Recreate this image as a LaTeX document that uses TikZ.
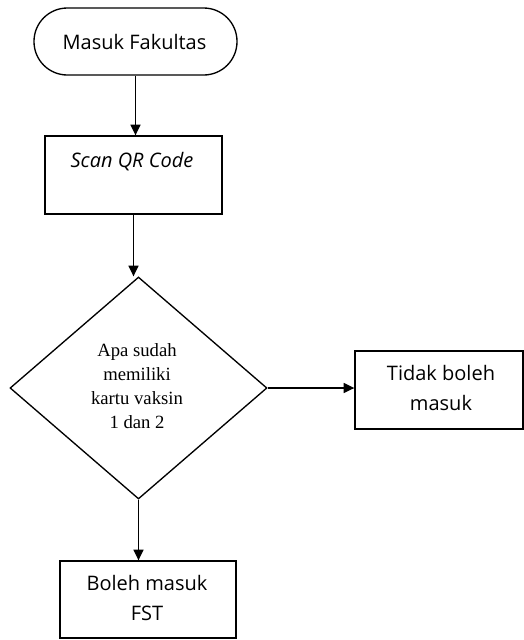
\documentclass[tikz,border=0pt]{standalone}
\usepackage{fontspec}
\setmainfont{Open Sans}
\newfontfamily\serifdia{Liberation Serif}
\usetikzlibrary{shapes.geometric,arrows.meta}
\begin{document}
\begin{tikzpicture}[x=0.75pt,y=-0.75pt,
  line width=1pt,
  box/.style={draw, rectangle, inner sep=0pt},
  lbl/.style={font=\fontsize{15}{22.5}\selectfont, align=center, inner sep=0pt},
  arr/.style={-{Triangle[length=8pt,width=7.5pt]}}]
\useasboundingbox (0,0) rectangle (524,640);
\node[box, rounded corners=25pt, minimum width=152.25pt, minimum height=50.25pt] (term) at (135.5,41.5) {};
\node[lbl] (termtxt) at (134.5,41.5) {Masuk Fakultas};
\node[box, minimum width=132.75pt, minimum height=58.5pt] (scan) at (133.5,175) {};
\node[lbl, font=\fontsize{15}{22.5}\selectfont\itshape] (scantxt) at (132,162) {Scan QR Code};
\node[draw, diamond, inner sep=0pt, minimum width=192.75pt, minimum height=166.5pt] (dia) at (138.5,388) {};
\node[lbl, font=\serifdia\fontsize{14}{18}\selectfont] (diatxt) at (137,386) {Apa sudah\\memiliki\\kartu vaksin\\1 dan 2};
\node[box, minimum width=126pt, minimum height=58.5pt] (tidak) at (439,390) {};
\node[lbl] (tidaktxt) at (441,388) {Tidak boleh\\masuk};
\node[box, minimum width=132pt, minimum height=57.75pt] (boleh) at (148,599.5) {};
\node[lbl] (bolehtxt) at (147,598) {Boleh masuk\\FST};
\draw[arr] (term.south) -- (term.south |- scan.north);
\draw[arr] (scan.south) -- (scan.south |- dia.north);
\draw[arr] (dia.east) -- (dia.east -| tidak.west);
\draw[arr] (dia.south) -- (dia.south |- boleh.north);
\end{tikzpicture}
\end{document}
